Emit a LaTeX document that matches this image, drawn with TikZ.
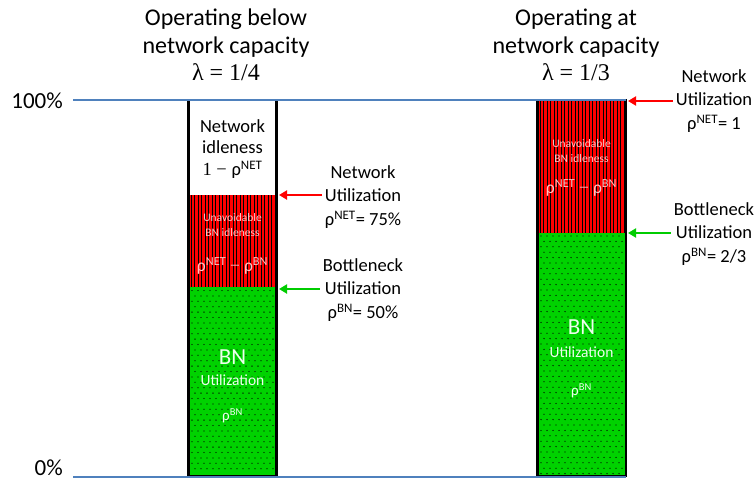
\documentclass[tikz,border=0pt]{standalone}
\usepackage{fontspec}
\setmainfont{Carlito}
\newfontfamily\serifmath{Liberation Serif}
\usetikzlibrary{arrows.meta}

\definecolor{axisblue}{RGB}{79,129,189}
\definecolor{barred}{RGB}{255,0,0}
\definecolor{bargreen}{RGB}{0,210,0}
\definecolor{arrowgreen}{RGB}{0,204,0}
\definecolor{redtext}{RGB}{255,196,196}
\definecolor{greentext}{RGB}{236,255,236}

\newcommand{\hiscript}[1]{\textsuperscript{#1}}

\begin{document}
\begin{tikzpicture}[x=1pt,y=-1pt,
  title/.style={align=center,font=\fontsize{24}{27.5}\selectfont},
  lbl/.style={align=center,font=\fontsize{18.5}{23.5}\selectfont},
  pct/.style={anchor=east,font=\fontsize{23}{26}\selectfont},
  axisline/.style={draw=axisblue,line width=1.6pt},
  barframe/.style={draw=black,line width=2.6pt},
  stripe/.style={draw=black,line width=0.65pt},
  dot/.style={fill=black},
  redarrow/.style={draw=red,line width=2.2pt,-{Triangle[length=8pt,width=9pt]}},
  greenarrow/.style={draw=arrowgreen,line width=2.2pt,-{Triangle[length=8pt,width=9pt]}},
  idletxt/.style={align=center,font=\fontsize{18.5}{21.5}\selectfont},
  redtxt/.style={align=center,text=redtext,font=\fontsize{11.5}{15}\selectfont},
  redformula/.style={text=redtext,font=\fontsize{17.5}{20}\selectfont},
  bntxt/.style={text=greentext,font=\fontsize{23}{26}\selectfont},
  bnsub/.style={text=greentext,font=\fontsize{15.5}{18}\selectfont},
  bnrho/.style={text=greentext,font=\fontsize{15}{18}\selectfont},
  inner sep=0pt]

\useasboundingbox (0,0) rectangle (756,482);

% ---------- left bar: below capacity ----------
\fill[white] (188.5,100) rectangle (276.5,195);
\fill[barred] (188.5,195) rectangle (276.5,287);
\foreach \x in {191,194.5,...,275} \draw[stripe] (\x,195) -- (\x,287);
\fill[bargreen] (188.5,287) rectangle (276.5,476);
\foreach \r in {0,...,33}
  \foreach \c in {0,...,13}
    \fill[dot] ({192+6*\c+3*mod(\r,2)},{290.5+5.4*\r}) circle (0.65);
\draw[barframe] (188.5,100) rectangle (276.5,476);

\node[idletxt] (idleL) at (232.5,149) {Network\\idleness\\{\serifmath 1 − }ρ\hiscript{NET}};
\node[redtxt] (unavL) at (232.5,225.5) {Unavoidable\\BN idleness};
\node[redformula] (diffL) at (232.5,266) {ρ\hiscript{NET} {\serifmath −} ρ\hiscript{BN}};
\node[bntxt] (bnL) at (232.5,357) {BN};
\node[bnsub] (utilL) at (232.5,380) {Utilization};
\node[bnrho] (rhoL) at (232.5,416) {ρ\hiscript{BN}};

% ---------- right bar: at capacity ----------
\fill[barred] (537.5,100) rectangle (626,233);
\foreach \x in {540,543.5,...,624} \draw[stripe] (\x,100) -- (\x,233);
\fill[bargreen] (537.5,233) rectangle (626,476);
\foreach \r in {0,...,44}
  \foreach \c in {0,...,13}
    \fill[dot] ({541+6*\c+3*mod(\r,2)},{236+5.4*\r}) circle (0.65);
\draw[barframe] (537.5,100) rectangle (626,476);

\node[redtxt] (unavR) at (581.5,151.5) {Unavoidable\\BN idleness};
\node[redformula] (diffR) at (581.5,188) {ρ\hiscript{NET} {\serifmath −} ρ\hiscript{BN}};
\node[bntxt] (bnR) at (581.5,327) {BN};
\node[bnsub] (utilR) at (581.5,352) {Utilization};
\node[bnrho] (rhoR) at (581.5,391) {ρ\hiscript{BN}};

% ---------- axis lines ----------
\node[pct] (top) at (63,101) {100\%};
\node[pct] (bottom) at (63,468) {0\%};
\coordinate (topend) at (626,100);
\coordinate (bottomend) at (626,477);
\draw[axisline] ([xshift=10pt]top.east |- 0,100) -- (topend);
\draw[axisline] ([xshift=10pt]bottom.east |- 0,477) -- (bottomend);

% ---------- titles ----------
\node[title] (titleL) at (226,45) {Operating below\\network capacity\\{\serifmath λ = 1/4}};
\node[title] (titleR) at (576,45) {Operating at\\network capacity\\{\serifmath λ = 1/3}};

% ---------- utilization labels ----------
\node[lbl] (netL) at (363,197) {Network\\Utilization\\ρ\hiscript{NET}= 75\%};
\node[lbl] (bnlabL) at (363,290) {Bottleneck\\Utilization\\ρ\hiscript{BN}= 50\%};
\node[lbl] (netR) at (714,101) {Network\\Utilization\\ρ\hiscript{NET}= 1};
\node[lbl] (bnlabR) at (714,234) {Bottleneck\\Utilization\\ρ\hiscript{BN}= 2/3};

\coordinate (netLtip) at (279,195);
\coordinate (bnLtip) at (279,289);
\coordinate (netRtip) at (628,101);
\coordinate (bnRtip) at (628,233);

\draw[redarrow] (netL.west |- netLtip) ++(-3,0) -- (netLtip);
\draw[greenarrow] (bnlabL.west |- bnLtip) ++(-3,0) -- (bnLtip);
\draw[redarrow] (netR.west |- netRtip) ++(-3,0) -- (netRtip);
\draw[greenarrow] (bnlabR.west |- bnRtip) ++(-3,0) -- (bnRtip);
\end{tikzpicture}
\end{document}
